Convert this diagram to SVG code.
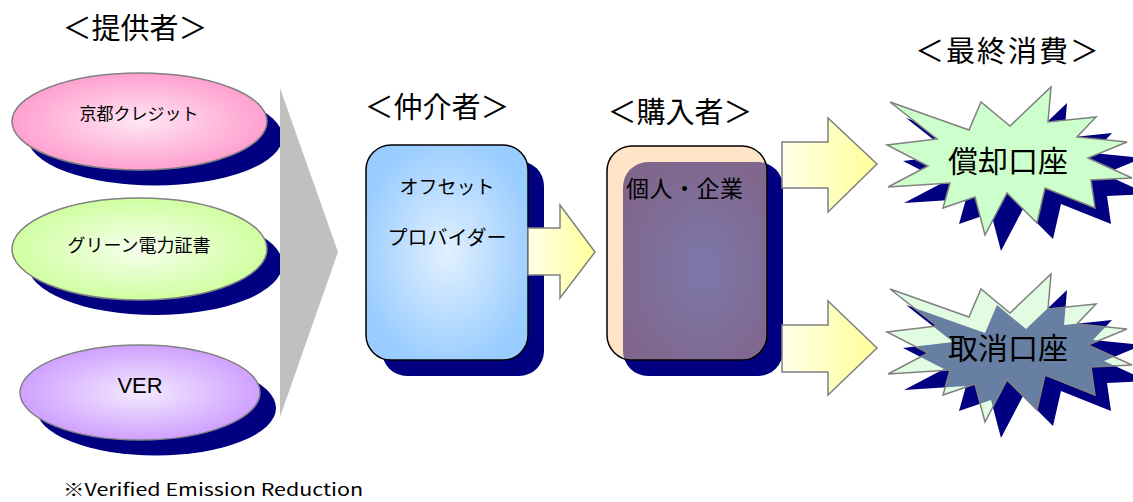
<svg xmlns="http://www.w3.org/2000/svg" xmlns:xlink="http://www.w3.org/1999/xlink" width="1133" height="502" viewBox="0 0 1133 502">
<style>
text{font-family:"Noto Sans CJK JP","Liberation Sans",sans-serif;fill:#000}
.hd{font-size:29px;text-anchor:middle}
.shadow{fill:#000080}
.ol{stroke:#808080;stroke-width:1.5}
.box{stroke:#000;stroke-width:1.5}
.arrow{fill:url(#gArrow);stroke:#808080;stroke-width:1.5}
</style>
<defs>
<radialGradient id="gPink" cx="0.5" cy="0.5" r="0.55"><stop offset="0" stop-color="#ffe6f3"/><stop offset="1" stop-color="#ff99cc"/></radialGradient>
<radialGradient id="gGreen" cx="0.5" cy="0.5" r="0.55"><stop offset="0" stop-color="#f6ffee"/><stop offset="1" stop-color="#ccff99"/></radialGradient>
<radialGradient id="gPurple" cx="0.5" cy="0.5" r="0.55"><stop offset="0" stop-color="#f3eaff"/><stop offset="1" stop-color="#cc99ff"/></radialGradient>
<radialGradient id="gBlue" cx="0.5" cy="0.5" r="0.55"><stop offset="0" stop-color="#e2f0ff"/><stop offset="1" stop-color="#99ccff"/></radialGradient>
<radialGradient id="gViolet" cx="0.5" cy="0.5" r="0.55"><stop offset="0" stop-color="#7d78aa"/><stop offset="1" stop-color="#80668c"/></radialGradient>
<linearGradient id="gArrow" x1="0" y1="0" x2="1" y2="0"><stop offset="0" stop-color="#ffffe8"/><stop offset="1" stop-color="#ffff99"/></linearGradient>
<path id="star" d="M890,102 L969,130 L981,102 L1010,126 L1051,87 L1048,122 L1096,117 L1077,137 L1127,142 L1088,158 L1132,178 L1091,180 L1095,208 L1045,188 L1037,223 L1007,193 L985,235 L975,197 L943,208 L950,183 L888,187 L928,166 L887,145 L937,139 Z"/>
<clipPath id="clipBuyer"><rect x="607" y="146" width="160" height="214" rx="25"/></clipPath>
<clipPath id="clipStar2"><use xlink:href="#star" transform="translate(0,187)"/></clipPath>
</defs>

<text class="hd" x="135" y="39">＜提供者＞</text>
<text class="hd" x="437" y="118">＜仲介者＞</text>
<text class="hd" x="680" y="123">＜購入者＞</text>
<text class="hd" x="1008" y="62" letter-spacing="2">＜最終消費＞</text>

<g id="kyoto">
<ellipse class="shadow" cx="155" cy="137" rx="127.5" ry="48.5"/>
<ellipse class="ol" cx="139.5" cy="121.5" rx="127.5" ry="48.5" fill="url(#gPink)"/>
<text x="139" y="120" font-size="17" text-anchor="middle">京都クレジット</text>
</g>
<g id="green">
<ellipse class="shadow" cx="155" cy="264" rx="127.5" ry="51"/>
<ellipse class="ol" cx="139.5" cy="249" rx="127.5" ry="51" fill="url(#gGreen)"/>
<text x="139" y="252" font-size="18" text-anchor="middle">グリーン電力証書</text>
</g>
<g id="ver">
<ellipse class="shadow" cx="156" cy="408" rx="120" ry="47.5"/>
<ellipse class="ol" cx="140" cy="392.5" rx="120" ry="47.5" fill="url(#gPurple)"/>
<text x="140" y="393" font-size="22" text-anchor="middle" style="font-family:'Liberation Sans',sans-serif">VER</text>
</g>

<g id="offset">
<rect class="shadow" x="382" y="161" width="162" height="215" rx="25"/>
<rect class="box" x="366" y="145" width="162" height="215" rx="25" fill="url(#gBlue)"/>
<text x="447" y="194" font-size="19" text-anchor="middle">オフセット</text>
<text x="447" y="245" font-size="20" text-anchor="middle">プロバイダー</text>
</g>

<g id="buyer">
<rect class="shadow" x="623" y="162" width="160" height="214" rx="25"/>
<rect x="607" y="146" width="160" height="214" rx="25" fill="#ffe4c8"/>
<rect x="623" y="162" width="160" height="214" rx="25" fill="url(#gViolet)" clip-path="url(#clipBuyer)"/>
<rect class="box" x="607" y="146" width="160" height="214" rx="25" fill="none"/>
<text x="626" y="197" font-size="23" letter-spacing="0.5">個人・企業</text>
</g>

<g id="connectors">
<polygon points="280,88 338,252 280,417" fill="#c0c0c0"/>
<path class="arrow" d="M528,228 L560,228 L560,205 L595,252 L560,298 L560,275 L528,275 Z"/>
<path class="arrow" d="M782,142 L828,142 L828,118 L877,164 L828,212 L828,188 L782,188 Z"/>
<path class="arrow" d="M782,325 L828,325 L828,301 L877,348 L828,395 L828,372 L782,372 Z"/>
</g>

<g id="shokyaku">
<use xlink:href="#star" class="shadow" transform="translate(16,16)"/>
<use xlink:href="#star" class="ol" fill="#ccffcc"/>
<text x="1008" y="172" font-size="30" text-anchor="middle">償却口座</text>
</g>

<g id="torikeshi">
<use xlink:href="#star" class="shadow" transform="translate(16,203)"/>
<use xlink:href="#star" fill="#e2fce2" transform="translate(0,187)"/>
<g clip-path="url(#clipStar2)"><use xlink:href="#star" fill="#667fa3" transform="translate(16,203)"/></g>
<use xlink:href="#star" class="ol" fill="none" transform="translate(0,187)"/>
<text x="1008" y="359" font-size="30" text-anchor="middle">取消口座</text>
</g>

<text x="63" y="496" font-size="17" textLength="300" lengthAdjust="spacingAndGlyphs">※Verified Emission Reduction</text>
</svg>
